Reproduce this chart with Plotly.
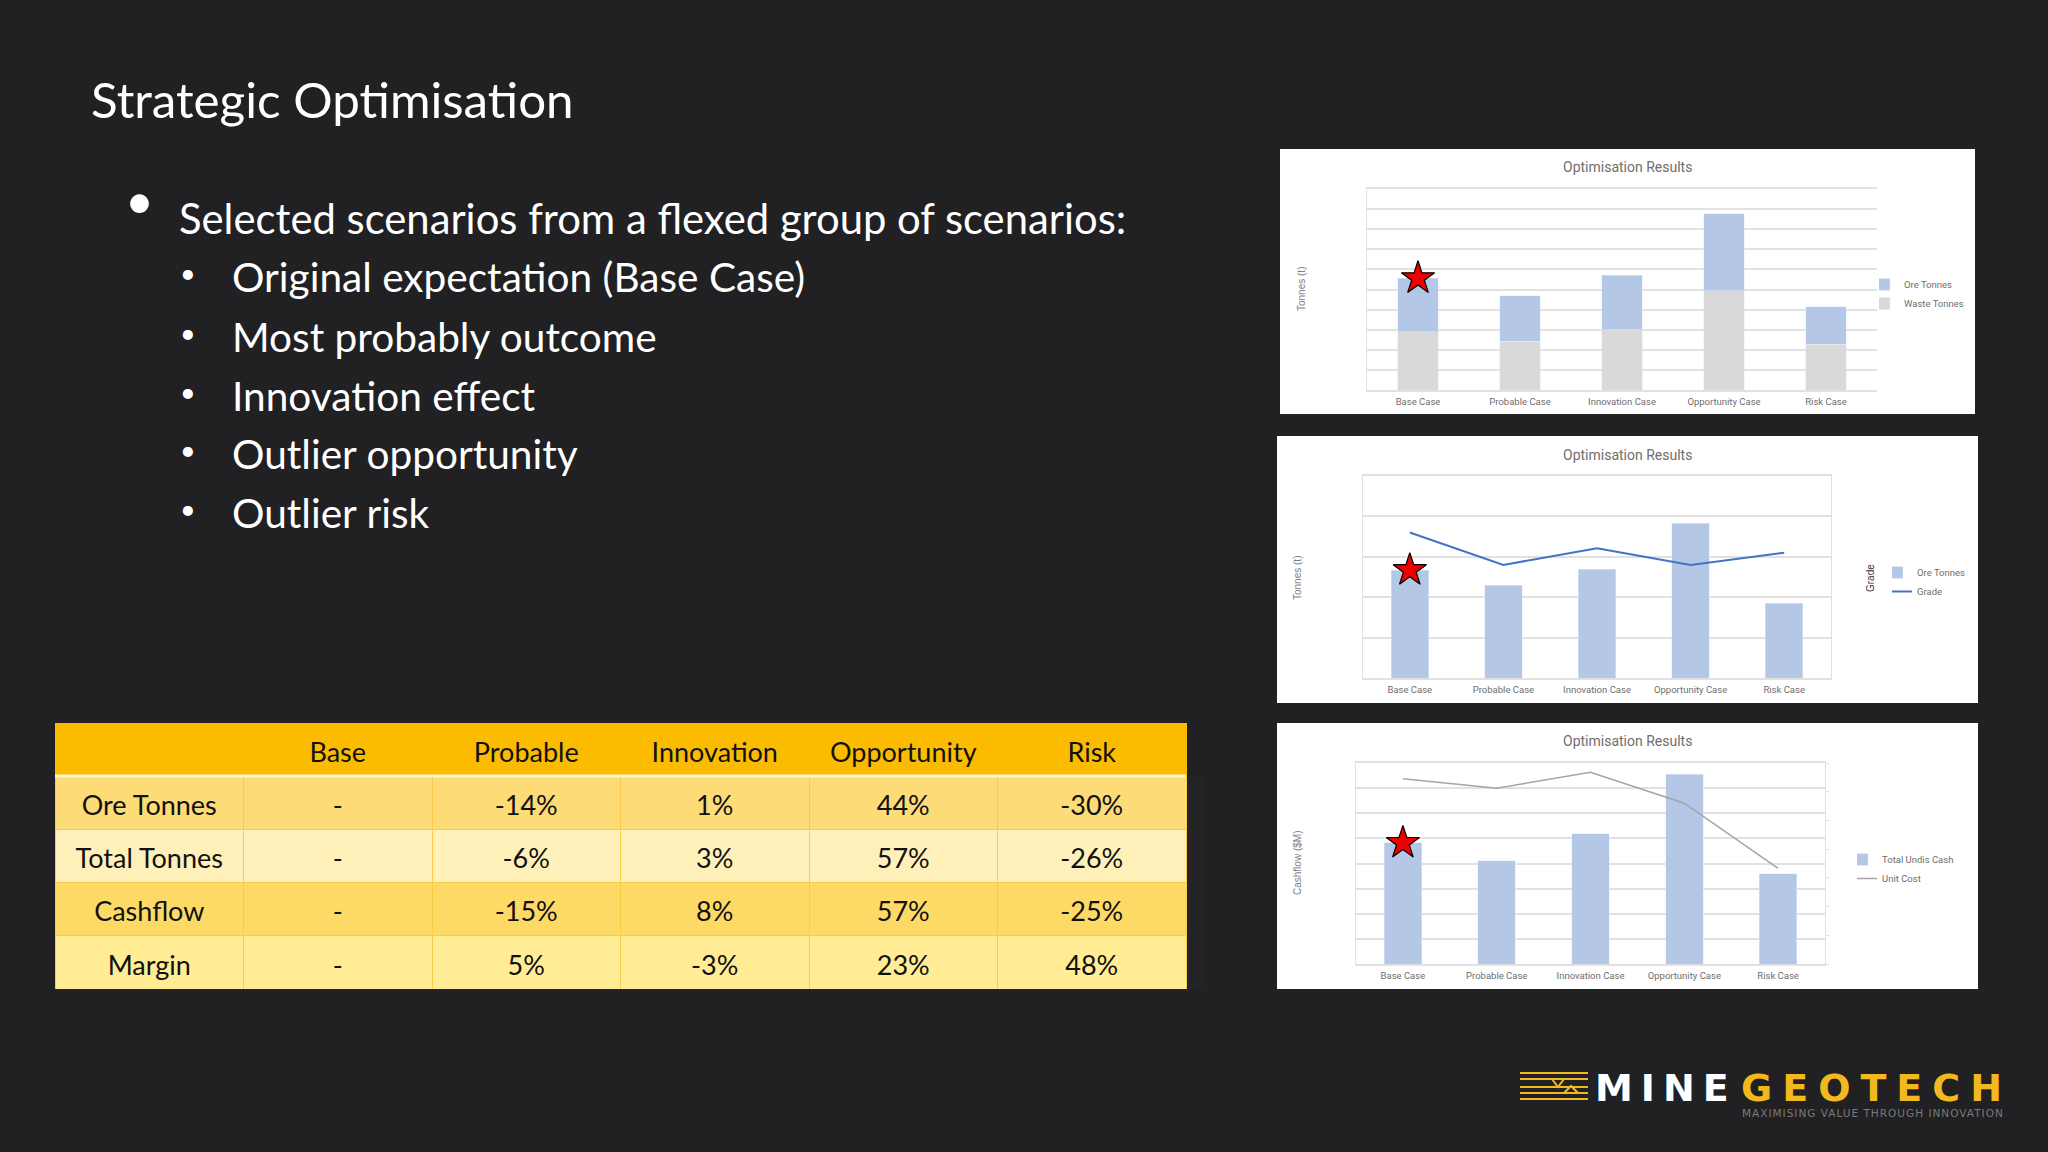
#!/usr/bin/env python3
# -*- coding: utf-8 -*-
import plotly.graph_objects as go

W, H = 2048, 1152

# chart data (no tick labels in the source, so grid units)
cases = ["Base Case", "Probable Case", "Innovation Case", "Opportunity Case", "Risk Case"]
waste_tonnes = [2.89, 2.42, 3.00, 4.93, 2.27]
ore_tonnes_stack = [2.67, 2.27, 2.70, 3.83, 1.86]
ore_tonnes = [2.67, 2.29, 2.69, 3.83, 1.85]
grade = [3.60, 2.80, 3.21, 2.80, 3.10]
undis_cash = [4.82, 4.11, 5.18, 7.55, 3.59]
unit_cost = [6.45, 6.12, 6.68, 5.60, 3.33]

# table data
table_header = ["", "Base", "Probable", "Innovation", "Opportunity", "Risk"]
row_names = ["Ore Tonnes", "Total Tonnes", "Cashflow", "Margin"]
base_col = ["-", "-", "-", "-"]
probable_col = ["-14%", "-6%", "-15%", "5%"]
innovation_col = ["1%", "3%", "8%", "-3%"]
opportunity_col = ["44%", "57%", "57%", "23%"]
risk_col = ["-30%", "-26%", "-25%", "48%"]
row_fills = ["#FDDB77", "#FFF0B9", "#FDD966", "#FFEC94"]

# slide text
slide_title = "Strategic Optimisation"
lead_bullet = "Selected scenarios from a flexed group of scenarios:"
sub_bullets = ["Original expectation (Base Case)", "Most probably outcome", "Innovation effect",
               "Outlier opportunity", "Outlier risk"]

BG = "#212123"
BAR_BLUE = "#B4C7E7"
BAR_GREY = "#D9D9D9"
GRID = "#E1E1E1"
TEXT_GREY = "#6E6E6E"
GOLD = "#F2B91E"
SLIDE_FONT = "Lato"
CHART_FONT = "Roboto"

# page setup: no body margin, and table text centred in its cells
PAGE_JS = (
    "document.body.style.margin='0';document.body.style.background='" + BG + "';"
    "var s=document.createElement('style');"
    "s.textContent='.cell-text{dominant-baseline:central;}';"
    "document.head.appendChild(s);"
)


def fx(px):
    return px / W


def fy(px):
    return 1 - px / H


def label(text, x, y, size, color="#FFFFFF", font=SLIDE_FONT, xanchor="left", angle=0, weight=None):
    return dict(text=text, x=fx(x), y=fy(y), xref="paper", yref="paper", xanchor=xanchor, yanchor="middle",
                showarrow=False, textangle=angle, font=dict(family=font, size=size, color=color, weight=weight))


def panel(x0, y0, x1, y1):
    return dict(type="rect", xref="paper", yref="paper", x0=fx(x0), x1=fx(x1), y0=fy(y0), y1=fy(y1),
                fillcolor="#FFFFFF", line_width=0, layer="below")


def logo_line(path):
    # logo strokes given in pixels
    pts = " L".join(f"{fx(x):.5f},{fy(y):.5f}" for x, y in path)
    return dict(type="path", xref="paper", yref="paper", path="M" + pts, line=dict(color=GOLD, width=2))


def x_axis(x0, x1, anchor):
    return dict(domain=[fx(x0), fx(x1)], anchor=anchor, type="category", categoryorder="array", categoryarray=cases,
                range=[-0.5, 4.5], showline=True, mirror=True, linecolor=GRID, linewidth=2, ticks="", showgrid=False,
                tickfont=dict(family=CHART_FONT, size=9.5, color=TEXT_GREY), ticklen=0, ticklabelstandoff=2)


def y_axis(y0, y1, top, anchor):
    return dict(domain=[fy(y1), fy(y0)], anchor=anchor, range=[0, top], dtick=1, showticklabels=False, ticks="",
                showgrid=True, gridcolor=GRID, gridwidth=2, zeroline=False, showline=True, linecolor=GRID, linewidth=1)


def star(x, y, xaxis, yaxis):
    return go.Scatter(x=x, y=y, xaxis=xaxis, yaxis=yaxis, mode="markers", showlegend=False, hoverinfo="skip",
                      marker=dict(symbol="star", size=25, color="#EE0000", line=dict(color="#000000", width=1.2)))


def legend_box(x, y, order="normal"):
    return dict(x=fx(x), y=fy(y), xanchor="left", yanchor="top", bgcolor="rgba(0,0,0,0)", indentation=-15,
                traceorder=order, font=dict(family=CHART_FONT, size=9.5, color=TEXT_GREY))


fig = go.Figure()

# top chart: stacked tonnes
fig.add_trace(go.Bar(x=cases, y=waste_tonnes, name="Waste Tonnes", xaxis="x", yaxis="y", width=0.4,
                     marker_color=BAR_GREY, legend="legend"))
fig.add_trace(go.Bar(x=cases, y=ore_tonnes_stack, name="Ore Tonnes", xaxis="x", yaxis="y", width=0.4,
                     marker_color=BAR_BLUE, legend="legend"))
fig.add_trace(star(cases[:1], [waste_tonnes[0] + ore_tonnes_stack[0]], "x", "y"))

# middle chart: ore tonnes and grade
fig.add_trace(go.Bar(x=cases, y=ore_tonnes, name="Ore Tonnes", xaxis="x2", yaxis="y2", width=0.4,
                     marker_color=BAR_BLUE, legend="legend2"))
fig.add_trace(go.Scatter(x=cases, y=grade, name="Grade", xaxis="x2", yaxis="y4", mode="lines",
                         line=dict(color="#4472C4", width=2), legend="legend2"))
fig.add_trace(star(cases[:1], ore_tonnes[:1], "x2", "y2"))

# bottom chart: cashflow and unit cost
fig.add_trace(go.Bar(x=cases, y=undis_cash, name="Total Undis Cash", xaxis="x3", yaxis="y3", width=0.4,
                     marker_color=BAR_BLUE, legend="legend3"))
fig.add_trace(go.Scatter(x=cases, y=unit_cost, name="Unit Cost", xaxis="x3", yaxis="y5", mode="lines",
                         line=dict(color="#A5A5A5", width=1.5), legend="legend3"))
fig.add_trace(star(cases[:1], undis_cash[:1], "x3", "y3"))

# results table
fig.add_trace(go.Table(
    domain=dict(x=[fx(55), fx(1186)], y=[fy(989), fy(723)]),
    columnwidth=[1, 1, 1, 1, 1, 1],
    header=dict(values=table_header, height=53, align="center", fill_color="#FBBC00",
                line=dict(color="#FBBC00", width=1), font=dict(family=SLIDE_FONT, size=27, color="#111111")),
    cells=dict(values=[row_names, base_col, probable_col, innovation_col, opportunity_col, risk_col],
               height=53.25, align="center", fill_color=[row_fills] * 6, line=dict(color="#F8CB4A", width=1),
               font=dict(family=SLIDE_FONT, size=27, color="#111111")),
))

shapes = [panel(1280, 149, 1975, 414), panel(1277, 436, 1978, 703), panel(1277, 723, 1978, 989)]

# white rule under the table header
shapes.append(dict(type="line", xref="paper", yref="paper", x0=fx(55), x1=fx(1186), y0=fy(776), y1=fy(776),
                   line=dict(color="#FFF6D8", width=3), layer="above"))

# logo rules and the two chevrons
for rule_y in [1073, 1079, 1087, 1093, 1099]:
    shapes.append(logo_line([(1520, rule_y), (1588, rule_y)]))
shapes.append(logo_line([(1552, 1079), (1558, 1087), (1564, 1079)]))
shapes.append(logo_line([(1564, 1093), (1571, 1086), (1578, 1093)]))

annotations = [
    label(slide_title, 89, 99, 49.3),
    label("•", 123, 200, 50),
    label(lead_bullet, 177, 218, 41.8),
    label("Optimisation Results", 1627, 167, 14, TEXT_GREY, CHART_FONT, "center"),
    label("Optimisation Results", 1627, 455, 14, TEXT_GREY, CHART_FONT, "center"),
    label("Optimisation Results", 1627, 741, 14, TEXT_GREY, CHART_FONT, "center"),
    label("Tonnes (t)", 1301, 289, 10, "#7F7F7F", "Liberation Sans", "center", -90),
    label("Tonnes (t)", 1297, 578, 10, "#7F7F7F", "Liberation Sans", "center", -90),
    label("Grade", 1870, 578, 10, "#333333", "Liberation Sans", "center", -90),
    label("Cashflow ($M)", 1297, 863, 10, "#7F7F7F", "Liberation Sans", "center", -90),
    label('<span style="letter-spacing:8px">MINE</span>', 1593, 1088, 38, "#FFFFFF", "DejaVu Sans", weight="bold"),
    label('<span style="letter-spacing:10px">GEOTECH</span>', 1739, 1088, 38, GOLD, "DejaVu Sans", weight="bold"),
    label('<span style="letter-spacing:1px">MAXIMISING VALUE THROUGH INNOVATION</span>',
          1740, 1113, 10.5, "#7A7A7A", "DejaVu Sans"),
]
for i, item in enumerate(sub_bullets):
    row_y = [277, 336, 395, 453, 512][i]
    annotations.append(label("•", 178, row_y - 4, 27))
    annotations.append(label(item, 230, row_y, 40.6))

fig.update_layout(
    width=W, height=H, margin=dict(l=0, r=0, t=0, b=0), autosize=False,
    paper_bgcolor=BG, plot_bgcolor="rgba(0,0,0,0)", barmode="stack", bargap=0.6,
    hovermode=False,
    shapes=shapes, annotations=annotations,
    xaxis=x_axis(1367, 1877, "y"),
    yaxis=y_axis(189, 390, 10, "x"),
    xaxis2=x_axis(1363, 1831, "y2"),
    yaxis2=y_axis(476, 678, 5, "x2"),
    xaxis3=x_axis(1356, 1825, "y3"),
    yaxis3=y_axis(763, 964, 8, "x3"),
    yaxis4=dict(overlaying="y2", side="right", anchor="x2", range=[0, 5], showticklabels=False, showgrid=False,
                zeroline=False, showline=True, linecolor=GRID, linewidth=1),
    yaxis5=dict(overlaying="y3", side="right", anchor="x3", range=[0, 7], dtick=1, showticklabels=False, showgrid=False,
                zeroline=False, showline=True, linecolor=GRID, linewidth=1, ticks="outside", ticklen=3, tickcolor=GRID),
    legend=legend_box(1879, 270, "reversed"),
    legend2=legend_box(1892, 558),
    legend3=legend_box(1857, 845),
)

fig.write_html("out.html", config=dict(displayModeBar=False), post_script=PAGE_JS)
